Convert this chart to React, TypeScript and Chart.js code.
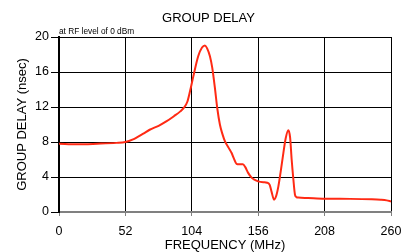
import React, { useEffect, useRef } from "react";
import { Chart, registerables } from "chart.js";

Chart.register(...registerables);

const freqMHz = [
  0, 14, 30, 45, 52, 58, 61, 66, 71, 78, 84, 90, 95, 98, 100.5, 102.6, 105.2, 109, 112, 114.3, 116, 118.2,
  120, 122, 124, 126, 128, 130, 133, 135.2, 137, 139, 141, 144, 146, 148, 151, 153, 156, 160, 163,
  165, 166.5, 168.4, 170, 171.8, 173.5, 175.7, 177.5, 179.6, 181, 182.2, 183.5, 184.8, 186, 187.4,
  195, 208, 228, 245, 252, 256.6, 260,
];
const delayNs = [
  7.8, 7.73, 7.8, 7.9, 8.0, 8.3, 8.53, 8.95, 9.4, 9.85, 10.35, 10.95, 11.5, 11.95, 12.6, 13.8, 15.5, 17.8,
  18.8, 19.04, 18.7, 17.8, 16.5, 14.3, 11.8, 10.0, 8.9, 8.07, 7.3, 6.74, 6.1, 5.5, 5.45, 5.45, 5.1,
  4.5, 3.9, 3.7, 3.5, 3.4, 3.35, 3.1, 2.3, 1.41, 1.8, 2.93, 4.5, 6.74, 8.4, 9.33, 8.5, 6.0, 3.8,
  1.98, 1.7, 1.65, 1.6, 1.52, 1.5, 1.45, 1.4, 1.33, 1.21,
];
const xTicks = [0, 52, 104, 156, 208, 260];
const yTicks = [0, 4, 8, 12, 16, 20];

const chartTitle = "GROUP DELAY";
const note = "at RF level of 0 dBm";
const xTitle = "FREQUENCY (MHz)";
const yTitle = "GROUP DELAY (nsec)";

const FONT = "'Liberation Sans', Arial, sans-serif";

export default function App() {
  const ref = useRef<HTMLCanvasElement | null>(null);
  useEffect(() => {
    if (!ref.current) return;
    const textPlugin = {
      id: "texts",
      afterDraw(chart: any) {
        const { ctx, chartArea } = chart;
        ctx.save();
        ctx.fillStyle = "#000";
        ctx.textBaseline = "middle";
        ctx.textAlign = "center";
        ctx.font = `13px ${FONT}`;
        ctx.fillText(chartTitle, 208.5, 18.5);
        ctx.textAlign = "left";
        ctx.font = `8.3px ${FONT}`;
        ctx.fillText(note, chartArea.left, chartArea.top - 5.5);
        ctx.restore();
      },
    };
    const chart = new Chart(ref.current, {
      type: "line",
      data: {
        datasets: [
          {
            data: freqMHz.map((x, i) => ({ x, y: delayNs[i] })),
            borderColor: "#ff2a14",
            borderWidth: 2,
            pointRadius: 0,
            cubicInterpolationMode: "monotone",
            fill: false,
          },
        ],
      },
      options: {
        animation: false,
        responsive: false,
        maintainAspectRatio: false,
        layout: { padding: { left: 0, right: 0, top: 37, bottom: 0 } },
        plugins: { legend: { display: false }, tooltip: { enabled: false }, title: { display: false } },
        scales: {
          x: {
            type: "linear",
            min: 0,
            max: 260,
            afterBuildTicks: (s: any) => {
              s.ticks = xTicks.map((v) => ({ value: v }));
            },
            afterFit: (s: any) => {
              s.height = 40;
              s.paddingRight = 10;
            },
            ticks: { color: "#000", font: { family: FONT, size: 12.5 }, padding: 8, maxRotation: 0 },
            grid: { color: "#000", lineWidth: 1, tickColor: "#808080", tickLength: 4 },
            border: { color: "#808080", width: 2 },
            title: {
              display: true,
              text: xTitle,
              color: "#000",
              font: { family: FONT, size: 13, lineHeight: 1 },
              padding: { top: 0, bottom: 0 },
            },
          },
          y: {
            min: 0,
            max: 20,
            afterBuildTicks: (s: any) => {
              s.ticks = yTicks.map((v) => ({ value: v }));
            },
            afterFit: (s: any) => {
              s.width = 59;
            },
            ticks: { color: "#000", font: { family: FONT, size: 12.5 }, padding: 2 },
            grid: { color: "#000", lineWidth: 1, tickColor: "#000", tickLength: 8 },
            border: { color: "#000", width: 2 },
            title: {
              display: true,
              text: yTitle,
              color: "#000",
              font: { family: FONT, size: 13, lineHeight: 1 },
              padding: { top: 15.5, bottom: 0 },
            },
          },
        },
      },
      plugins: [textPlugin],
    } as any);
    return () => chart.destroy();
  }, []);
  return (
    <div style={{ position: "fixed", left: 0, top: 0, width: 401, height: 252, background: "#fff" }}>
      <canvas ref={ref} width={401} height={252} style={{ width: 401, height: 252, display: "block" }} />
    </div>
  );
}
